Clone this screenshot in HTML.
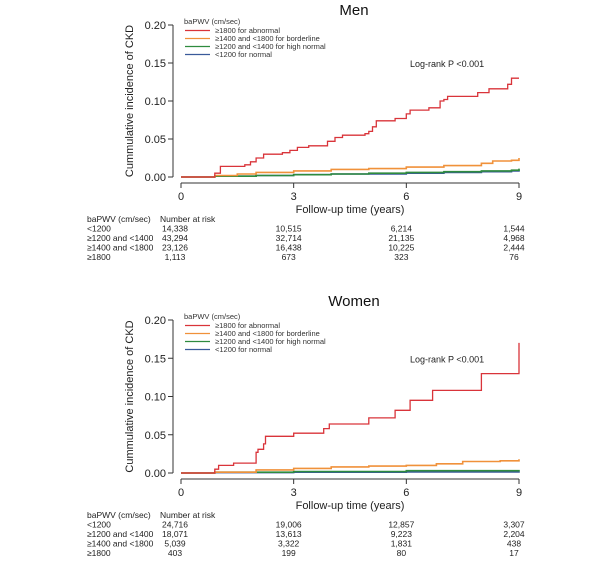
<!DOCTYPE html>
<html><head><meta charset="utf-8">
<style>
html,body{margin:0;padding:0;background:#fff;}
svg{display:block;font-family:"Liberation Sans",Arial,sans-serif;}
</style></head>
<body>
<svg id="fig" width="611" height="563" viewBox="0 0 611 563"></svg>
<script>
const xTicks=[0,3,6,9];
const yTicks=[0,0.05,0.10,0.15,0.20];
const yTickLabels=["0.00","0.05","0.10","0.15","0.20"];
const seriesNames=["≥1800 for abnormal","≥1400 and <1800 for borderline","≥1200 and <1400 for high normal","<1200 for normal"];
const seriesColors=["#d9343a","#f0913a","#2e8b3e","#3a5a9a"];
const rowLabels=["<1200","≥1200 and <1400","≥1400 and <1800","≥1800"];
// Men
const menRedT=[0,0.9,1.05,1.7,1.85,2.0,2.2,2.7,2.9,3.1,3.4,3.9,4.1,4.3,4.9,5.0,5.1,5.2,5.7,6.0,6.1,6.6,6.9,7.0,7.1,7.9,8.2,8.7,8.8,9.0];
const menRedV=[0,0.005,0.014,0.016,0.02,0.025,0.03,0.032,0.035,0.039,0.041,0.047,0.052,0.055,0.057,0.06,0.066,0.074,0.077,0.083,0.088,0.091,0.1,0.102,0.106,0.111,0.116,0.122,0.13,0.13];
const menOrT=[0,0.9,1.5,2.0,3.0,4.0,5.0,6.0,7.0,8.0,8.3,8.8,9.0];
const menOrV=[0,0.002,0.004,0.006,0.008,0.010,0.011,0.013,0.015,0.018,0.021,0.022,0.025];
const menGrT=[0,0.9,2,3,4,5,6,7,8,8.8,9.0];
const menGrV=[0,0.001,0.002,0.003,0.004,0.005,0.006,0.007,0.008,0.009,0.011];
const menBlT=[0,0.9,2,3,4,5,6,7,8,8.8,9.0];
const menBlV=[0,0.001,0.002,0.003,0.004,0.004,0.005,0.006,0.007,0.008,0.010];
const menRisk=[["14,338","10,515","6,214","1,544"],["43,294","32,714","21,135","4,968"],["23,126","16,438","10,225","2,444"],["1,113","673","323","76"]];
// Women
const womRedT=[0,0.9,1.0,1.4,2.0,2.05,2.2,2.25,3.0,3.8,3.95,5.0,5.7,6.1,6.7,8.0,9.0,9.0];
const womRedV=[0,0.005,0.01,0.013,0.027,0.031,0.038,0.048,0.052,0.058,0.064,0.072,0.082,0.095,0.108,0.13,0.13,0.17];
const womOrT=[0,0.9,2,3,4,5,6,6.8,7.5,8.5,9.0];
const womOrV=[0,0.001,0.004,0.006,0.008,0.009,0.010,0.012,0.015,0.016,0.018];
const womGrT=[0,0.9,3,6,9];
const womGrV=[0,0.001,0.002,0.003,0.004];
const womBlT=[0,0.9,3,6,9];
const womBlV=[0,0.0005,0.001,0.0015,0.002];
const womRisk=[["24,716","19,006","12,857","3,307"],["18,071","13,613","9,223","2,204"],["5,039","3,322","1,831","438"],["403","199","80","17"]];

const NS="http://www.w3.org/2000/svg";
const svg=document.getElementById('fig');
function mk(tag,attrs,parent,text){const e=document.createElementNS(NS,tag);for(const k in attrs)e.setAttribute(k,attrs[k]);if(text!==undefined)e.textContent=text;(parent||svg).appendChild(e);return e;}

function panel(title,top,y0,y20,series,risk,key){
  const g=mk('g',{});
  
  
  const xs=t=>181+(519-181)*t/9;
  const ys=v=>y0-(y0-y20)*v/0.2;
  const t=mk('text',{x:354,y:top+15,'font-size':15,'text-anchor':'middle',fill:'#111'},g,title);
  
  
  const axisXb=y0+6;
  const ya=mk('line',{x1:173,x2:173,y1:ys(0.2),y2:ys(0),stroke:'#333','stroke-width':1},g);
  
  
  yTicks.forEach((v,i)=>{
    mk('line',{x1:168,x2:173,y1:ys(v),y2:ys(v),stroke:'#333'},g);
    const l=mk('text',{x:166,y:ys(v)+4,'font-size':11,'text-anchor':'end',fill:'#222'},g,yTickLabels[i]);
    
    
  });
  const xa=mk('line',{x1:xs(0),x2:xs(9),y1:axisXb,y2:axisXb,stroke:'#333'},g);
  
  
  xTicks.forEach(v=>{
    mk('line',{x1:xs(v),x2:xs(v),y1:axisXb,y2:axisXb+5,stroke:'#333'},g);
    const l=mk('text',{x:xs(v),y:axisXb+17,'font-size':11,'text-anchor':'middle',fill:'#222'},g,String(v));
    
    
  });
  const xt=mk('text',{x:350,y:axisXb+30,'font-size':11,'text-anchor':'middle',fill:'#222'},g,'Follow-up time (years)');
  
  
  const ty=(y0+y20)/2;
  const yt=mk('text',{x:0,y:0,'font-size':11,'text-anchor':'middle',fill:'#222',transform:`translate(133,${ty}) rotate(-90)`},g,'Cummulative incidence of CKD');
  
  
  for(let s=series.length-1;s>=0;s--){
    const [T,V]=series[s];
    let d=`M${xs(T[0])},${ys(V[0])}`;
    for(let i=1;i<T.length;i++){d+=` H${xs(T[i]).toFixed(1)} V${ys(V[i]).toFixed(1)}`;}
    const p=mk('path',{d:d,fill:'none',stroke:seriesColors[s],'stroke-width':s===0?1.3:1.6},g);
    
    
  }
  const lg=mk('g',{},g);
  
  
  mk('text',{x:184,y:y20-1,'font-size':7.5,fill:'#333'},lg,'baPWV (cm/sec)');
  seriesNames.forEach((n,i)=>{
    const yy=y20+8+i*8;
    mk('line',{x1:185,x2:210,y1:yy-2.5,y2:yy-2.5,stroke:seriesColors[i],'stroke-width':1.3},lg);
    const e=mk('text',{x:215,y:yy,'font-size':7.5,fill:'#333'},lg,n);
    
    
  });
  const lr=mk('text',{x:410,y:ys(0.15)+4,'font-size':9,fill:'#222'},g,'Log-rank P <0.001');
  
  
  const rt=mk('g',{'font-size':8.5,fill:'#222'},g);
  
  
  const hy=axisXb+39;
  mk('text',{x:87,y:hy},rt,'baPWV (cm/sec)');
  mk('text',{x:160,y:hy},rt,'Number at risk');
  rowLabels.forEach((r,i)=>{
    const yy=hy+9.5*(i+1);
    mk('text',{x:87,y:yy},rt,r);
    risk[i].forEach((v,j)=>{
      mk('text',{x:xs(xTicks[j])-5+(j===0?-1:0),y:yy,'text-anchor':'middle'},rt,v);
    });
  });
}
panel('Men',0,177,25,[[menRedT,menRedV],[menOrT,menOrV],[menGrT,menGrV],[menBlT,menBlV]],menRisk,'men');
panel('Women',291,473,320,[[womRedT,womRedV],[womOrT,womOrV],[womGrT,womGrV],[womBlT,womBlV]],womRisk,'women');
</script>
</body></html>
